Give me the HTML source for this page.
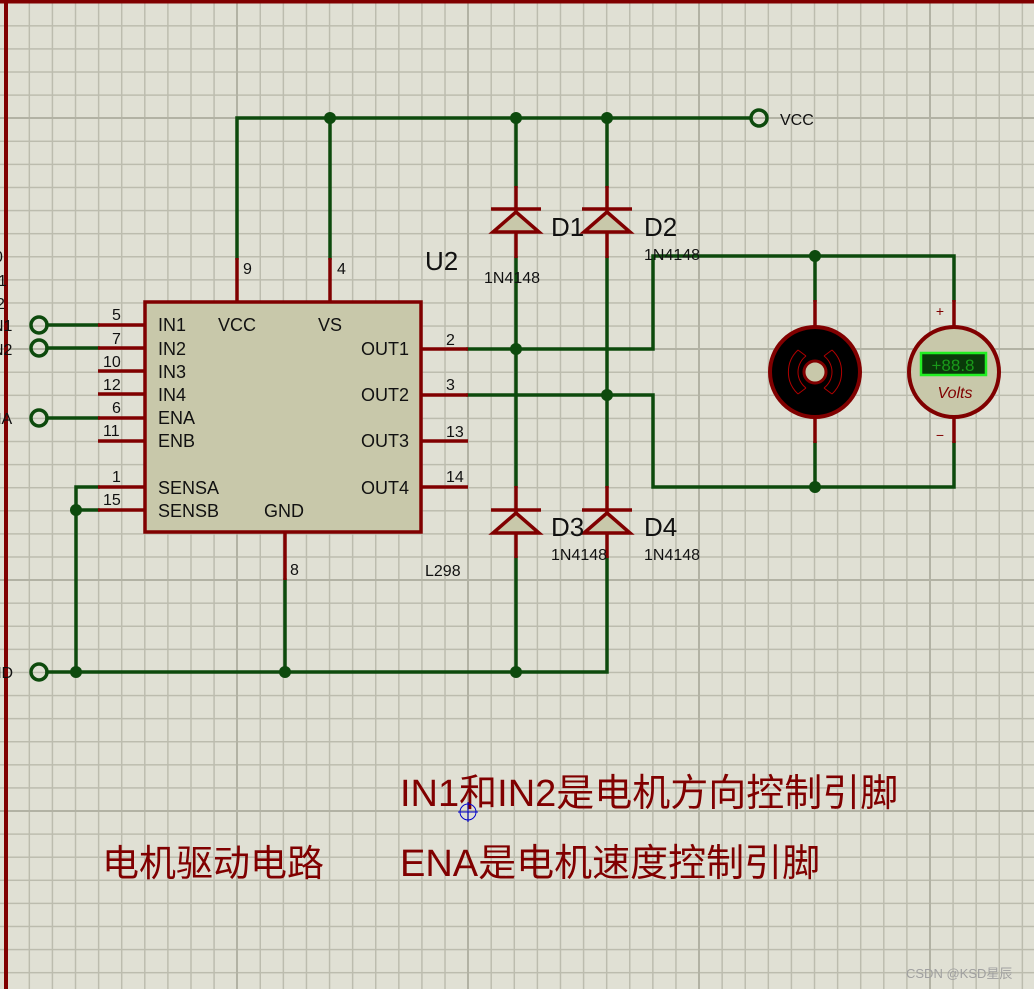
<!DOCTYPE html>
<html><head><meta charset="utf-8"><style>
html,body{margin:0;padding:0;}
body{width:1034px;height:989px;background-color:#e0e0d4;
background-image:
linear-gradient(to right,#b2b2a4 0,#b2b2a4 2px,transparent 2px),
linear-gradient(to bottom,#b2b2a4 0,#b2b2a4 2px,transparent 2px),
linear-gradient(to right,#bcbcae 0,#bcbcae 1.5px,transparent 1.5px),
linear-gradient(to bottom,#bcbcae 0,#bcbcae 1.5px,transparent 1.5px);
background-size:231px 231px,231px 231px,23.1px 23.1px,23.1px 23.1px;
background-position:236px 117px,236px 117px,5.5px 2px,5.5px 2px;
overflow:hidden;}
svg{display:block;}
text{font-family:"Liberation Sans","Noto Sans CJK SC",sans-serif;}
</style></head><body>
<svg width="1034" height="989" viewBox="0 0 1034 989" xmlns="http://www.w3.org/2000/svg">
<rect x="0" y="0" width="1034" height="3.5" fill="#800000"/>
<rect x="4" y="0" width="4" height="989" fill="#800000"/>

<g stroke="#0d4a0d" stroke-width="3.5" fill="none" stroke-linecap="square">
<path d="M237 258V118H750"/>
<path d="M330 118V258"/>
<path d="M47 325H98M47 348H98M47 418H98"/>
<path d="M98 487H76V672M76 510H98"/>
<path d="M47 672H607V558"/>
<path d="M285 580V672"/>
<path d="M516 118V186M607 118V186"/>
<path d="M516 258V486M607 258V486"/>
<path d="M516 558V672"/>
<path d="M468 349H653V256H954V300"/>
<path d="M468 395H653V487H954V443"/>
<path d="M815 256V300M815 443V487"/>
</g>
<g fill="#0d4a0d">
<circle cx="330" cy="118" r="6"/><circle cx="516" cy="118" r="6"/><circle cx="607" cy="118" r="6"/>
<circle cx="516" cy="349" r="6"/><circle cx="607" cy="395" r="6"/>
<circle cx="76" cy="510" r="6"/><circle cx="76" cy="672" r="6"/><circle cx="285" cy="672" r="6"/><circle cx="516" cy="672" r="6"/>
<circle cx="815" cy="256" r="6"/><circle cx="815" cy="487" r="6"/>
</g>
<g fill="none" stroke="#0d4a0d" stroke-width="3.5">
<circle cx="759" cy="118" r="8"/><circle cx="39" cy="325" r="8"/><circle cx="39" cy="348" r="8"/><circle cx="39" cy="418" r="8"/><circle cx="39" cy="672" r="8"/>
</g>

<g stroke="#800000" stroke-width="3.5" fill="none">
<path d="M237 258V302M330 258V302M285 533V580"/>
<path d="M98 325H145M98 348H145M98 371H145M98 394H145M98 418H145M98 441H145M98 487H145M98 510H145"/>
<path d="M421 349H468M421 395H468M421 441H468M421 487H468"/>
<path d="M516 186V258M607 186V258M516 486V558M607 486V558"/>
<path d="M815 300V330M815 415V443M954 300V330M954 415V443"/>
</g>
<rect x="145" y="302" width="276" height="230" fill="#c8c8aa" stroke="#800000" stroke-width="3.5"/>

<g stroke="#800000" stroke-width="3.5" fill="#c8c8aa">
<path d="M491 209H541M582 209H632M491 510H541M582 510H632"/>
<path d="M516 212L493 232H539Z"/><path d="M607 212L584 232H630Z"/>
<path d="M516 513L493 533H539Z"/><path d="M607 513L584 533H630Z"/>
</g>

<circle cx="815" cy="372" r="45" fill="#000" stroke="#800000" stroke-width="4"/>
<circle cx="815" cy="372" r="11" fill="#c8c8aa" stroke="#800000" stroke-width="3"/>
<g stroke="#b00000" stroke-width="1" fill="none">
<path d="M798 350L806 356M798 394L806 388"/>
<path d="M798 350A30 30 0 0 0 798 394M806 356A20 20 0 0 0 806 388"/>
<path d="M832 350L824 356M832 394L824 388"/>
<path d="M832 350A30 30 0 0 1 832 394M824 356A20 20 0 0 1 824 388"/>
</g>
<circle cx="954" cy="372" r="45" fill="#c8c8aa" stroke="#800000" stroke-width="4"/>
<rect x="921" y="353" width="65" height="22" fill="#0a3a0a" stroke="#22ee22" stroke-width="2.5"/>
<text x="953" y="371" font-size="17" fill="#1a9a1a" text-anchor="middle">+88.8</text>
<text x="955" y="398" font-size="16" fill="#800000" font-style="italic" text-anchor="middle">Volts</text>
<text x="940" y="316" font-size="14" fill="#800000" text-anchor="middle">+</text>
<text x="940" y="440" font-size="14" fill="#800000" text-anchor="middle">−</text>

<g font-size="16" fill="#111">
<text x="243" y="274">9</text><text x="337" y="274">4</text>
<text x="112" y="320">5</text><text x="112" y="344">7</text><text x="103" y="367">10</text><text x="103" y="390">12</text>
<text x="112" y="413">6</text><text x="103" y="436">11</text><text x="112" y="482">1</text><text x="103" y="505">15</text>
<text x="446" y="345">2</text><text x="446" y="390">3</text><text x="446" y="437">13</text><text x="446" y="482">14</text>
<text x="290" y="575">8</text>
<text x="780" y="125">VCC</text>
<text x="-6" y="262">0</text><text x="-2" y="286">1</text><text x="-4" y="309">2</text>
<text x="-8" y="331">N1</text><text x="-8" y="355">N2</text><text x="-10" y="424">NA</text><text x="-10" y="678">ND</text>
</g>
<g font-size="18" fill="#111">
<text x="158" y="331">IN1</text><text x="158" y="355">IN2</text><text x="158" y="378">IN3</text><text x="158" y="401">IN4</text>
<text x="158" y="424">ENA</text><text x="158" y="447">ENB</text><text x="158" y="494">SENSA</text><text x="158" y="517">SENSB</text>
<text x="218" y="331">VCC</text><text x="318" y="331">VS</text><text x="264" y="517">GND</text>
<text x="361" y="355">OUT1</text><text x="361" y="401">OUT2</text><text x="361" y="447">OUT3</text><text x="361" y="494">OUT4</text>
<text x="425" y="576" font-size="16">L298</text>
</g>
<g fill="#111">
<text x="425" y="270" font-size="26">U2</text>
<text x="551" y="236" font-size="26">D1</text><text x="644" y="236" font-size="26">D2</text>
<text x="551" y="536" font-size="26">D3</text><text x="644" y="536" font-size="26">D4</text>
<text x="484" y="283" font-size="16">1N4148</text><text x="644" y="260" font-size="16">1N4148</text>
<text x="551" y="560" font-size="16">1N4148</text><text x="644" y="560" font-size="16">1N4148</text>
</g>

<g fill="#800000" font-size="38">
<text x="400" y="806">IN1和IN2是电机方向控制引脚</text>
<text x="400" y="876">ENA是电机速度控制引脚</text>
<text x="102" y="876" font-size="37">电机驱动电路</text>
</g>
<g stroke="#0000cc" stroke-width="1" fill="none">
<circle cx="468" cy="812" r="8"/><path d="M458 812H478M468 802V822"/>
</g>
<text x="906" y="978" font-size="13" fill="#a0a0a0">CSDN @KSD星辰</text>
</svg>
</body></html>
